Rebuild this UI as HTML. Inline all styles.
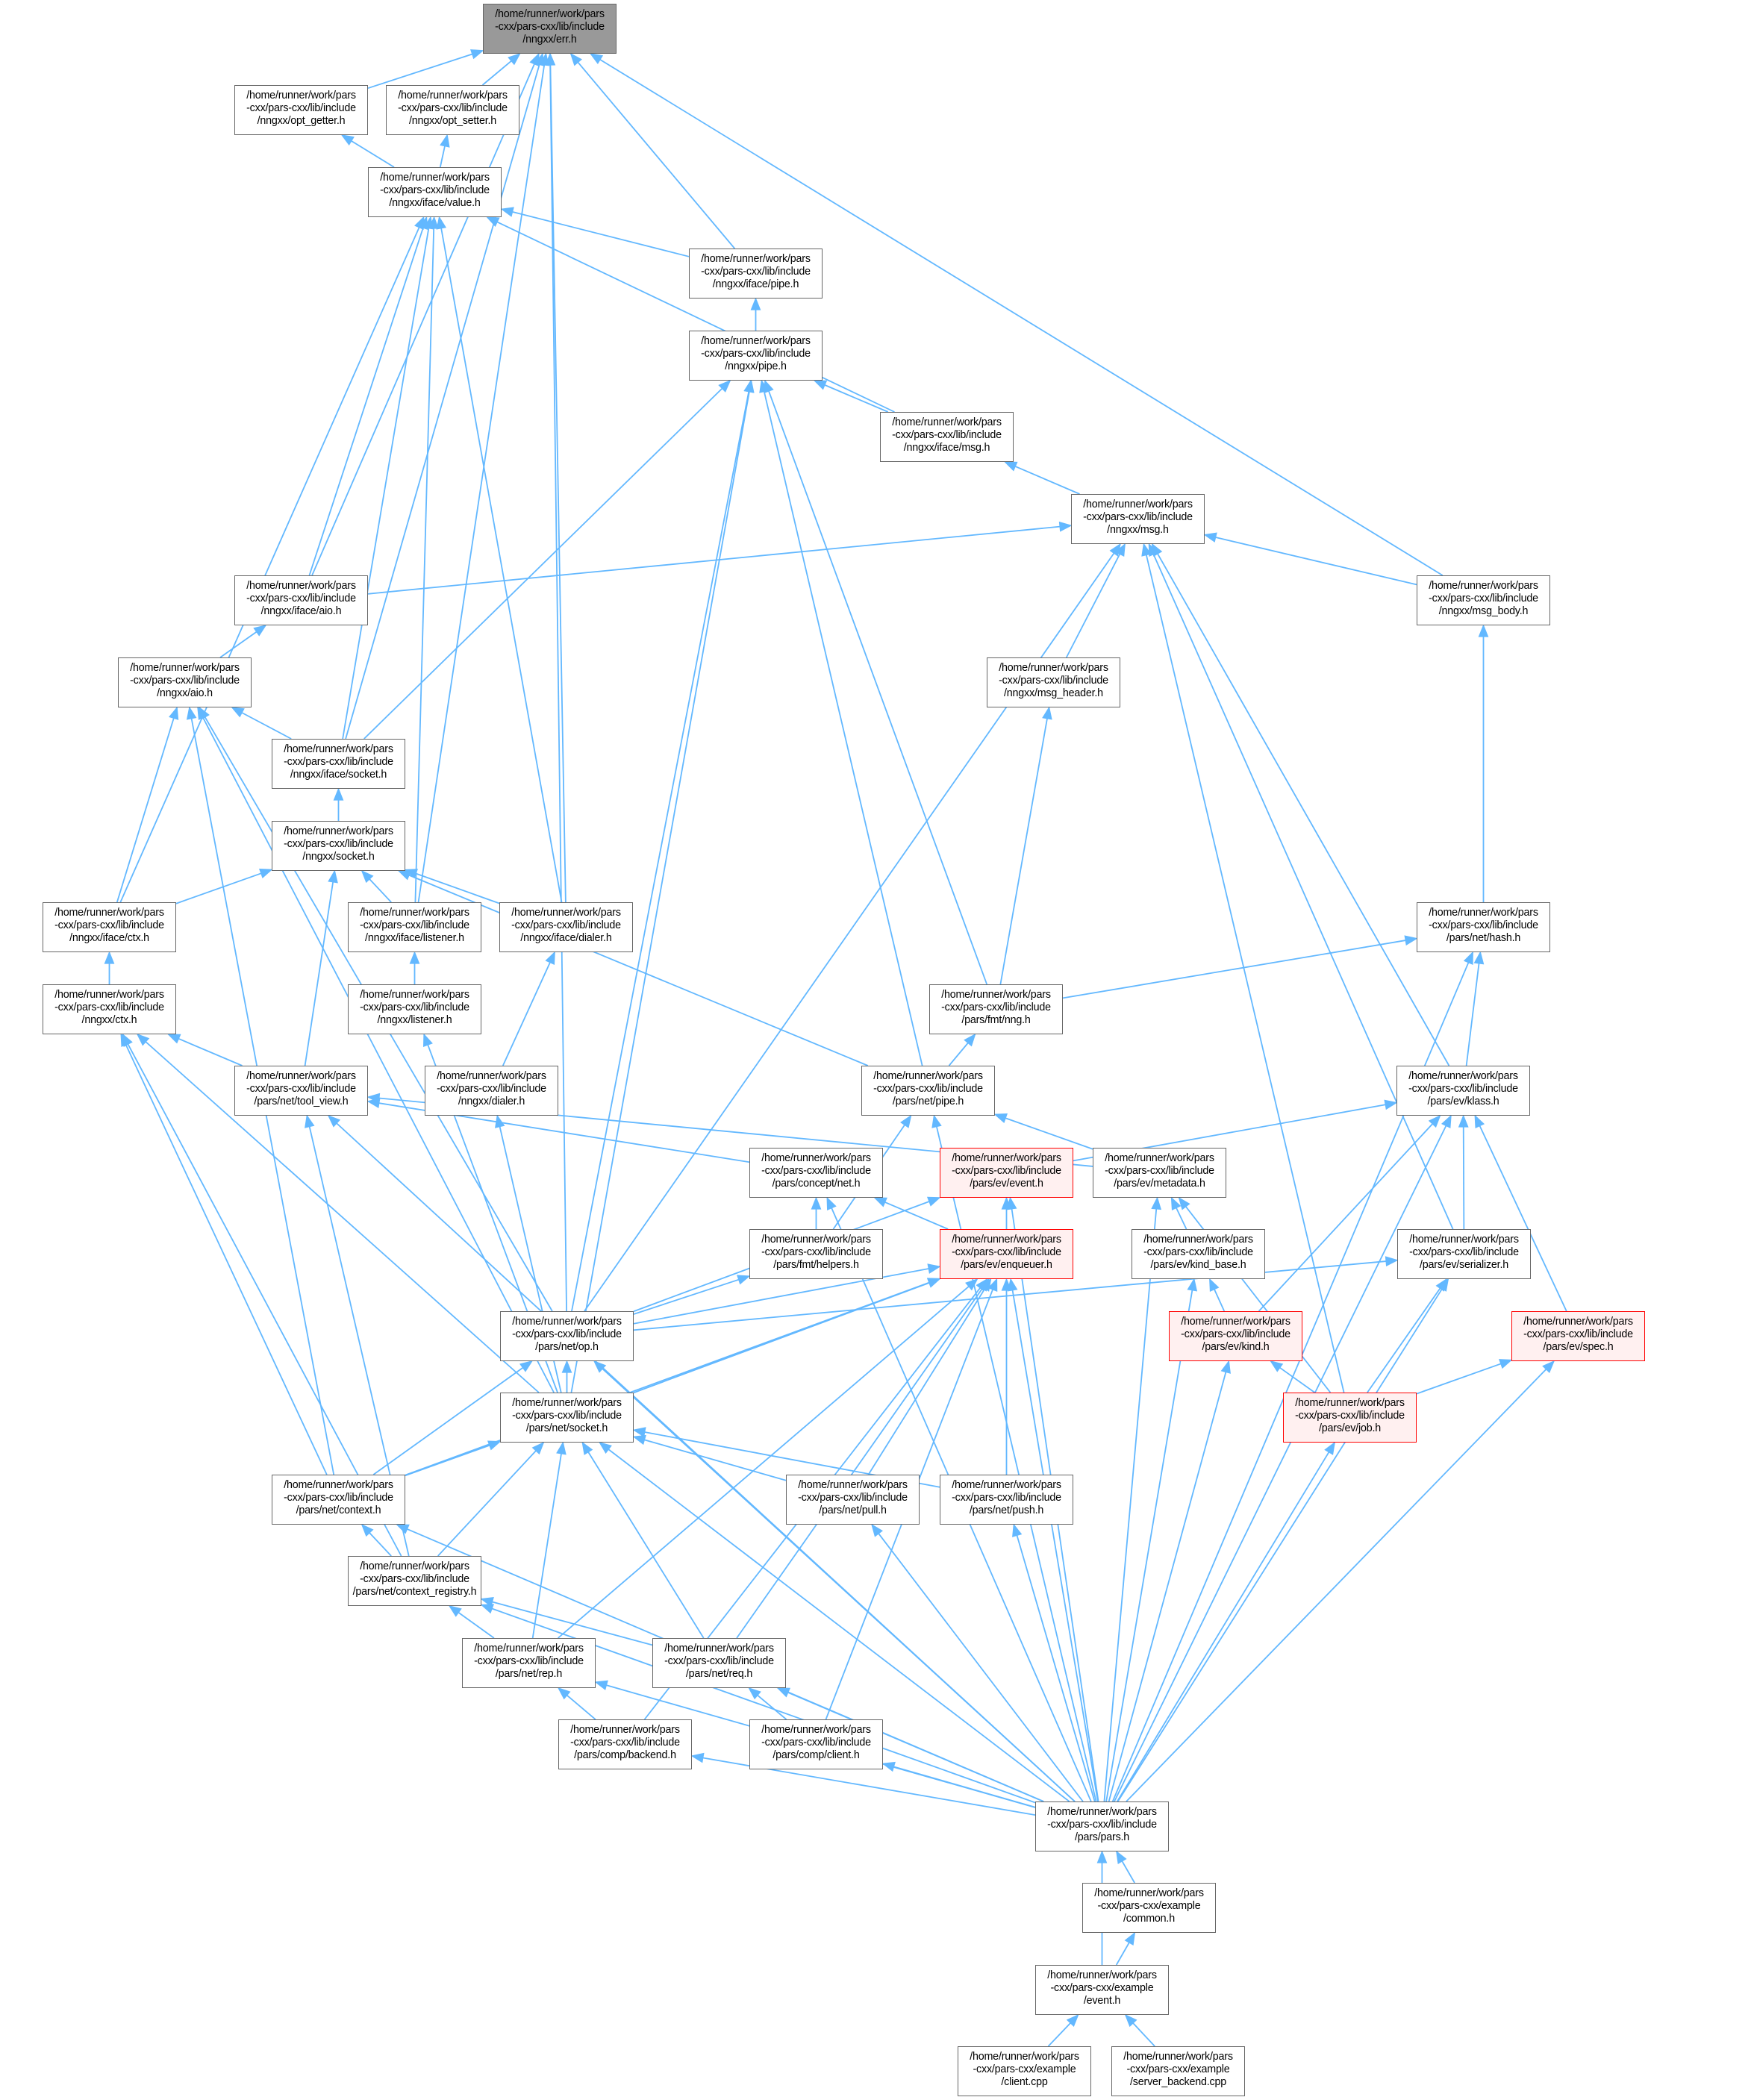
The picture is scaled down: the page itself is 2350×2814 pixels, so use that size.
<!DOCTYPE html>
<html><head><meta charset="utf-8">
<style>
html,body{margin:0;padding:0;background:#fff;}
body{width:2350px;height:2814px;position:relative;overflow:hidden;font-family:"Liberation Sans",sans-serif;}
.n{position:absolute;width:177px;height:60px;border:1px solid #666;background:#fff;font-size:14.3px;line-height:17px;text-align:center;padding-top:5px;box-sizing:content-box;color:#000;letter-spacing:-0.2px;white-space:nowrap;}
.n.r{border-color:#ff0000;background:#fff0f0;}
.n.g{background:#999;}
svg{position:absolute;left:0;top:0;}
</style></head><body>
<svg id="s" width="2350" height="2814"></svg>
<div id="nodes">
<div class="n g" id="err" style="left:647px;top:5px">/home/runner/work/pars<br>-cxx/pars-cxx/lib/include<br>/nngxx/err.h</div>
<div class="n" id="optg" style="left:314px;top:114px">/home/runner/work/pars<br>-cxx/pars-cxx/lib/include<br>/nngxx/opt_getter.h</div>
<div class="n" id="opts" style="left:517px;top:114px">/home/runner/work/pars<br>-cxx/pars-cxx/lib/include<br>/nngxx/opt_setter.h</div>
<div class="n" id="value" style="left:493px;top:224px">/home/runner/work/pars<br>-cxx/pars-cxx/lib/include<br>/nngxx/iface/value.h</div>
<div class="n" id="ipipe" style="left:923px;top:333px">/home/runner/work/pars<br>-cxx/pars-cxx/lib/include<br>/nngxx/iface/pipe.h</div>
<div class="n" id="npipe" style="left:923px;top:443px">/home/runner/work/pars<br>-cxx/pars-cxx/lib/include<br>/nngxx/pipe.h</div>
<div class="n" id="imsg" style="left:1179px;top:552px">/home/runner/work/pars<br>-cxx/pars-cxx/lib/include<br>/nngxx/iface/msg.h</div>
<div class="n" id="nmsg" style="left:1435px;top:662px">/home/runner/work/pars<br>-cxx/pars-cxx/lib/include<br>/nngxx/msg.h</div>
<div class="n" id="iaio" style="left:314px;top:771px">/home/runner/work/pars<br>-cxx/pars-cxx/lib/include<br>/nngxx/iface/aio.h</div>
<div class="n" id="mbody" style="left:1898px;top:771px">/home/runner/work/pars<br>-cxx/pars-cxx/lib/include<br>/nngxx/msg_body.h</div>
<div class="n" id="naio" style="left:158px;top:881px">/home/runner/work/pars<br>-cxx/pars-cxx/lib/include<br>/nngxx/aio.h</div>
<div class="n" id="mhead" style="left:1322px;top:881px">/home/runner/work/pars<br>-cxx/pars-cxx/lib/include<br>/nngxx/msg_header.h</div>
<div class="n" id="isock" style="left:364px;top:990px">/home/runner/work/pars<br>-cxx/pars-cxx/lib/include<br>/nngxx/iface/socket.h</div>
<div class="n" id="nsock" style="left:364px;top:1100px">/home/runner/work/pars<br>-cxx/pars-cxx/lib/include<br>/nngxx/socket.h</div>
<div class="n" id="ictx" style="left:57px;top:1209px">/home/runner/work/pars<br>-cxx/pars-cxx/lib/include<br>/nngxx/iface/ctx.h</div>
<div class="n" id="ilis" style="left:466px;top:1209px">/home/runner/work/pars<br>-cxx/pars-cxx/lib/include<br>/nngxx/iface/listener.h</div>
<div class="n" id="idial" style="left:669px;top:1209px">/home/runner/work/pars<br>-cxx/pars-cxx/lib/include<br>/nngxx/iface/dialer.h</div>
<div class="n" id="hash" style="left:1898px;top:1209px">/home/runner/work/pars<br>-cxx/pars-cxx/lib/include<br>/pars/net/hash.h</div>
<div class="n" id="nctx" style="left:57px;top:1319px">/home/runner/work/pars<br>-cxx/pars-cxx/lib/include<br>/nngxx/ctx.h</div>
<div class="n" id="nlis" style="left:466px;top:1319px">/home/runner/work/pars<br>-cxx/pars-cxx/lib/include<br>/nngxx/listener.h</div>
<div class="n" id="fnng" style="left:1245px;top:1319px">/home/runner/work/pars<br>-cxx/pars-cxx/lib/include<br>/pars/fmt/nng.h</div>
<div class="n" id="tool" style="left:314px;top:1428px">/home/runner/work/pars<br>-cxx/pars-cxx/lib/include<br>/pars/net/tool_view.h</div>
<div class="n" id="ndial" style="left:569px;top:1428px">/home/runner/work/pars<br>-cxx/pars-cxx/lib/include<br>/nngxx/dialer.h</div>
<div class="n" id="netpipe" style="left:1154px;top:1428px">/home/runner/work/pars<br>-cxx/pars-cxx/lib/include<br>/pars/net/pipe.h</div>
<div class="n" id="klass" style="left:1871px;top:1428px">/home/runner/work/pars<br>-cxx/pars-cxx/lib/include<br>/pars/ev/klass.h</div>
<div class="n" id="cnet" style="left:1004px;top:1538px">/home/runner/work/pars<br>-cxx/pars-cxx/lib/include<br>/pars/concept/net.h</div>
<div class="n r" id="event" style="left:1259px;top:1538px">/home/runner/work/pars<br>-cxx/pars-cxx/lib/include<br>/pars/ev/event.h</div>
<div class="n" id="meta" style="left:1464px;top:1538px">/home/runner/work/pars<br>-cxx/pars-cxx/lib/include<br>/pars/ev/metadata.h</div>
<div class="n" id="fhelp" style="left:1004px;top:1647px">/home/runner/work/pars<br>-cxx/pars-cxx/lib/include<br>/pars/fmt/helpers.h</div>
<div class="n r" id="enq" style="left:1259px;top:1647px">/home/runner/work/pars<br>-cxx/pars-cxx/lib/include<br>/pars/ev/enqueuer.h</div>
<div class="n" id="kbase" style="left:1516px;top:1647px">/home/runner/work/pars<br>-cxx/pars-cxx/lib/include<br>/pars/ev/kind_base.h</div>
<div class="n" id="ser" style="left:1872px;top:1647px">/home/runner/work/pars<br>-cxx/pars-cxx/lib/include<br>/pars/ev/serializer.h</div>
<div class="n" id="op" style="left:670px;top:1757px">/home/runner/work/pars<br>-cxx/pars-cxx/lib/include<br>/pars/net/op.h</div>
<div class="n r" id="kind" style="left:1566px;top:1757px">/home/runner/work/pars<br>-cxx/pars-cxx/lib/include<br>/pars/ev/kind.h</div>
<div class="n r" id="spec" style="left:2025px;top:1757px">/home/runner/work/pars<br>-cxx/pars-cxx/lib/include<br>/pars/ev/spec.h</div>
<div class="n" id="nsocket" style="left:670px;top:1866px">/home/runner/work/pars<br>-cxx/pars-cxx/lib/include<br>/pars/net/socket.h</div>
<div class="n r" id="job" style="left:1719px;top:1866px">/home/runner/work/pars<br>-cxx/pars-cxx/lib/include<br>/pars/ev/job.h</div>
<div class="n" id="context" style="left:364px;top:1976px">/home/runner/work/pars<br>-cxx/pars-cxx/lib/include<br>/pars/net/context.h</div>
<div class="n" id="pull" style="left:1053px;top:1976px">/home/runner/work/pars<br>-cxx/pars-cxx/lib/include<br>/pars/net/pull.h</div>
<div class="n" id="push" style="left:1259px;top:1976px">/home/runner/work/pars<br>-cxx/pars-cxx/lib/include<br>/pars/net/push.h</div>
<div class="n" id="creg" style="left:466px;top:2085px">/home/runner/work/pars<br>-cxx/pars-cxx/lib/include<br>/pars/net/context_registry.h</div>
<div class="n" id="rep" style="left:619px;top:2195px">/home/runner/work/pars<br>-cxx/pars-cxx/lib/include<br>/pars/net/rep.h</div>
<div class="n" id="req" style="left:874px;top:2195px">/home/runner/work/pars<br>-cxx/pars-cxx/lib/include<br>/pars/net/req.h</div>
<div class="n" id="backend" style="left:748px;top:2304px">/home/runner/work/pars<br>-cxx/pars-cxx/lib/include<br>/pars/comp/backend.h</div>
<div class="n" id="client" style="left:1004px;top:2304px">/home/runner/work/pars<br>-cxx/pars-cxx/lib/include<br>/pars/comp/client.h</div>
<div class="n" id="pars" style="left:1387px;top:2414px">/home/runner/work/pars<br>-cxx/pars-cxx/lib/include<br>/pars/pars.h</div>
<div class="n" id="common" style="left:1450px;top:2523px">/home/runner/work/pars<br>-cxx/pars-cxx/example<br>/common.h</div>
<div class="n" id="evh" style="left:1387px;top:2633px">/home/runner/work/pars<br>-cxx/pars-cxx/example<br>/event.h</div>
<div class="n" id="ccpp" style="left:1283px;top:2742px">/home/runner/work/pars<br>-cxx/pars-cxx/example<br>/client.cpp</div>
<div class="n" id="sbcpp" style="left:1489px;top:2742px">/home/runner/work/pars<br>-cxx/pars-cxx/example<br>/server_backend.cpp</div>
</div>
<script>
(function(){
var E=[
["optg","err"],["opts","err"],["value","optg"],["value","opts"],
["ipipe","err"],["ipipe","value"],["npipe","ipipe"],
["imsg","npipe"],["imsg","value"],["nmsg","imsg"],
["iaio","err"],["iaio","value"],["iaio","nmsg"],
["mbody","err"],["mbody","nmsg"],["naio","iaio"],["mhead","nmsg"],
["isock","err"],["isock","value"],["isock","naio"],["isock","npipe"],
["nsock","isock"],
["ictx","value"],["ictx","naio"],["ictx","nsock"],
["ilis","err"],["ilis","value"],["ilis","nsock"],
["idial","err"],["idial","value"],["idial","nsock"],
["hash","mbody"],["nctx","ictx"],["nlis","ilis"],
["fnng","npipe"],["fnng","mhead"],["fnng","hash"],
["tool","nctx"],["tool","nsock"],["ndial","idial"],
["netpipe","npipe"],["netpipe","fnng"],["netpipe","nsock"],
["klass","nmsg"],["klass","hash"],
["cnet","tool"],["event","klass"],["meta","tool"],["meta","netpipe"],
["fhelp","cnet"],["fhelp","netpipe"],["enq","cnet"],["enq","event"],
["kbase","meta"],["ser","nmsg"],["ser","klass"],
["op","err"],["op","npipe"],["op","naio"],["op","nmsg"],["op","fhelp"],["op","enq"],["op","event"],["op","ser"],
["kind","kbase"],["kind","klass"],["spec","klass"],
["nsocket","op"],["nsocket","naio"],["nsocket","nctx"],["nsocket","nlis"],["nsocket","ndial"],["nsocket","npipe"],["nsocket","enq"],
["job","nmsg"],["job","kind"],["job","spec"],["job","meta"],["job","ser"],
["context","naio"],["context","nctx"],["context","nsocket"],["context","op"],["context","enq"],
["pull","nsocket"],["pull","enq"],["push","nsocket"],["push","enq"],
["creg","nctx"],["creg","tool"],["creg","context"],["creg","nsocket"],
["rep","creg"],["rep","nsocket"],["rep","enq"],
["req","creg"],["req","nsocket"],["req","enq"],
["backend","rep"],["backend","enq"],["client","req"],["client","enq"],
["pars","tool"],["pars","cnet"],["pars","context"],["pars","creg"],["pars","rep"],["pars","req"],["pars","backend"],["pars","client"],["pars","pull"],["pars","push"],["pars","nsocket"],["pars","op"],["pars","enq"],["pars","meta"],["pars","kbase"],["pars","kind"],["pars","job"],["pars","ser"],["pars","spec"],["pars","klass"],["pars","hash"],["pars","netpipe"],["pars","event"],
["common","pars"],["evh","pars"],["evh","common"],["ccpp","evh"],["sbcpp","evh"]
];
function box(id){var e=document.getElementById(id);var l=parseFloat(e.style.left),t=parseFloat(e.style.top);return {l:l,t:t,r:l+179,b:t+67,cx:l+89.5,cy:t+33.5};}
function clip(b,x0,y0,dx,dy){
 // point where ray from center (x0,y0) in direction (dx,dy) exits box b
 var tx=dx!==0?(89.5/Math.abs(dx)):1e9, ty=dy!==0?(33.5/Math.abs(dy)):1e9;
 var t=Math.min(tx,ty);return [x0+dx*t,y0+dy*t];
}
var s=document.getElementById('s'),h='';
var col='#63b8ff';
E.forEach(function(p){
 var c=box(p[0]),q=box(p[1]);
 var dx=q.cx-c.cx,dy=q.cy-c.cy;
 var a=clip(c,c.cx,c.cy,dx,dy);
 var b=clip(q,q.cx,q.cy,-dx,-dy);
 var L=Math.sqrt((b[0]-a[0])*(b[0]-a[0])+(b[1]-a[1])*(b[1]-a[1]));
 var ux=(b[0]-a[0])/L,uy=(b[1]-a[1])/L;
 var ex=b[0]-ux*15,ey=b[1]-uy*15;
 h+='<line x1="'+a[0]+'" y1="'+a[1]+'" x2="'+ex+'" y2="'+ey+'" stroke="'+col+'" stroke-width="1.8"/>';
 var px=-uy*6,py=ux*6;
 h+='<polygon points="'+b[0]+','+b[1]+' '+(ex+px)+','+(ey+py)+' '+(ex-px)+','+(ey-py)+'" fill="'+col+'" stroke="'+col+'" stroke-width="1.2"/>';
});
s.innerHTML=h;
})();
</script>
</body></html>
